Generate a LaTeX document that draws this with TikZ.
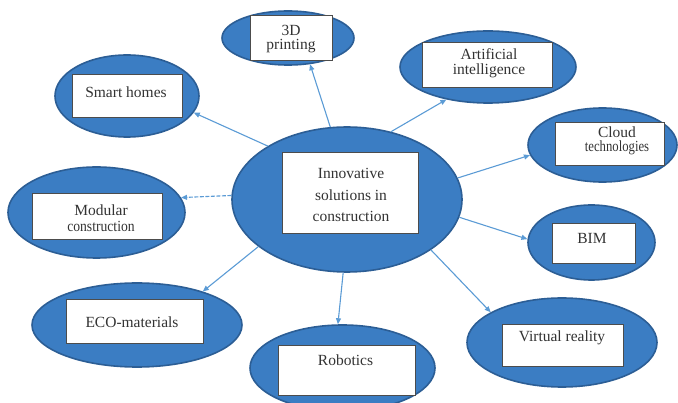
\documentclass[tikz,border=0pt]{standalone}
\usepackage{fontspec}
\setmainfont{Liberation Serif}
\newfontfamily\tnr{Liberation Serif}
\usetikzlibrary{shapes.geometric,arrows.meta}
\definecolor{ellfill}{HTML}{3B7DC3}
\definecolor{elldraw}{HTML}{2C5E95}
\definecolor{arr}{HTML}{5B9BD5}
\definecolor{txt}{HTML}{333333}
\begin{document}
\begin{tikzpicture}[x=1pt,y=-1pt,
 ell/.style={ellipse, draw=elldraw, line width=1.6pt, fill=ellfill, inner sep=0},
 box/.style={rectangle, draw=black!70, line width=0.8pt, fill=white, inner sep=0},
 lbl/.style={align=center, text=txt, inner sep=0},
 fs/.style={font=\tnr\fontsize{15.5}{#1}\selectfont},
 conn/.style={draw=arr, line width=1.1pt, -{Triangle[length=6pt,width=5pt]}}]
\useasboundingbox (0,0) rectangle (678,403);
% ellipses
\node[ell, minimum width=230pt, minimum height=145pt] (c) at (347,199.5) {};
\node[ell, minimum width=132pt, minimum height=54pt] (p3d) at (288,38) {};
\node[ell, minimum width=176pt, minimum height=72pt] (ai) at (488,67) {};
\node[ell, minimum width=149pt, minimum height=74pt] (cl) at (602.5,145) {};
\node[ell, minimum width=144pt, minimum height=82pt] (sh) at (127,96) {};
\node[ell, minimum width=177pt, minimum height=91pt] (mo) at (96.5,212.5) {};
\node[ell, minimum width=127pt, minimum height=75pt] (bim) at (591.5,242.5) {};
\node[ell, minimum width=210pt, minimum height=84pt] (eco) at (137,325) {};
\node[ell, minimum width=190pt, minimum height=89pt] (vr) at (562,342.5) {};
\node[ell, minimum width=185pt, minimum height=86pt] (rob) at (342.5,368) {};
% boxes
\node[box, minimum width=136pt, minimum height=81pt] (cb) at (350,192.5) {};
\node[box, minimum width=82pt, minimum height=45pt] (p3db) at (291,37.5) {};
\node[box, minimum width=130pt, minimum height=45pt] (aib) at (487,64.5) {};
\node[box, minimum width=109pt, minimum height=43pt] (clb) at (609.5,143.5) {};
\node[box, minimum width=110pt, minimum height=43pt] (shb) at (127,95.5) {};
\node[box, minimum width=130pt, minimum height=46pt] (mob) at (97,216) {};
\node[box, minimum width=83pt, minimum height=40pt] (bimb) at (593.5,243) {};
\node[box, minimum width=137pt, minimum height=44pt] (ecob) at (134.5,321) {};
\node[box, minimum width=121pt, minimum height=42pt] (vrb) at (562.5,345) {};
\node[box, minimum width=137pt, minimum height=50pt] (robb) at (346.5,370) {};
% texts
\node[lbl, fs=21.5] (ct) at (351,195) {Innovative\\solutions in\\construction};
\node[lbl, fs=14.5] (p3dt) at (291,39) {3D\\printing};
\node[lbl, fs=14.5] (ait) at (489,63) {Artificial\\intelligence};
\node[lbl, fs=14.5] (clt) at (617,141) {Cloud\\\scalebox{0.82}[1]{technologies}};
\node[lbl, fs=18] (sht) at (126,92) {Smart homes};
\node[lbl, fs=16.5] (mot) at (101,218) {Modular\\\scalebox{0.88}[1]{construction}};
\node[lbl, fs=18] (bimt) at (592,238) {BIM};
\node[lbl, fs=18] (ecot) at (132,322) {ECO-materials};
\node[lbl, fs=18] (vrt) at (562,338) {Virtual reality};
\node[lbl, fs=18] (robt) at (345.5,360) {Robotics};
% connectors
\draw[conn] (c.146) -- (sh.-14);
\draw[conn] (c.103) -- (p3d.-50);
\draw[conn] (c.57) -- (ai.-142);
\draw[conn] (c.11) -- (cl.-172);
\draw[conn] (c.-9) -- (bim.177);
\draw[conn] (c.-31) -- (vr.157);
\draw[conn] (c.-93) -- (rob.96);
\draw[conn] (c.-152) -- (eco.27);
\draw[conn, dash pattern=on 4pt off 1.5pt] (c.178) -- (mo.10);
\end{tikzpicture}
\end{document}
